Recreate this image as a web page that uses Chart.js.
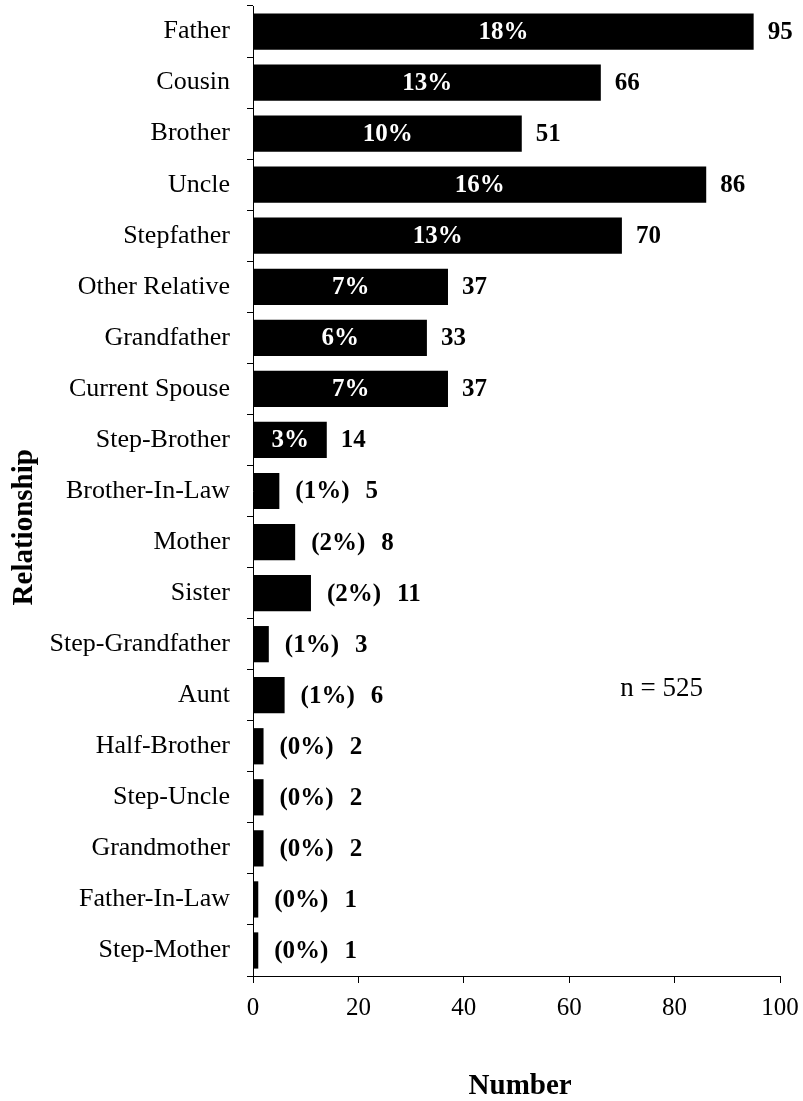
<!DOCTYPE html>
<html>
<head>
<meta charset="utf-8">
<script src="https://cdn.jsdelivr.net/npm/chart.js@4"></script>
<style>
  html, body { margin: 0; padding: 0; background: #fff; }
  #wrap { width: 803px; height: 1101px; position: relative; }
</style>
</head>
<body>
<div id="wrap"><canvas id="chart"></canvas></div>
<script>
// 关系类别与人数
const relationships = [
  'Father', 'Cousin', 'Brother', 'Uncle', 'Stepfather', 'Other Relative',
  'Grandfather', 'Current Spouse', 'Step-Brother', 'Brother-In-Law', 'Mother',
  'Sister', 'Step-Grandfather', 'Aunt', 'Half-Brother', 'Step-Uncle',
  'Grandmother', 'Father-In-Law', 'Step-Mother'
];
const counts = [95, 66, 51, 86, 70, 37, 33, 37, 14, 5, 8, 11, 3, 6, 2, 2, 2, 1, 1];
const percents = [18, 13, 10, 16, 13, 7, 6, 7, 3, 1, 2, 2, 1, 1, 0, 0, 0, 0, 0];
const xTicks = [0, 20, 40, 60, 80, 100];
const totalNote = 'n = 525';

const SERIF = '"Liberation Serif", "Times New Roman", serif';

// 柱上标签：大柱内白色百分比 + 柱外数量；小柱外面 (x%) 数量
const barLabels = {
  id: 'barLabels',
  afterDatasetsDraw(chart) {
    const ctx = chart.ctx;
    const meta = chart.getDatasetMeta(0);
    ctx.save();
    ctx.font = 'bold 25px ' + SERIF;
    ctx.textBaseline = 'middle';
    meta.data.forEach((bar, i) => {
      const end = bar.x;
      const mid = (bar.x + bar.base) / 2;
      const y = bar.y + 1;
      if (counts[i] >= 14) {
        ctx.fillStyle = '#fff';
        ctx.textAlign = 'center';
        ctx.fillText(percents[i] + '%', mid, y);
        ctx.fillStyle = '#000';
        ctx.textAlign = 'left';
        ctx.fillText(String(counts[i]), end + 14, y);
      } else {
        const p = '(' + percents[i] + '%)';
        ctx.fillStyle = '#000';
        ctx.textAlign = 'left';
        ctx.fillText(p, end + 16, y);
        ctx.fillText(String(counts[i]), end + 16 + ctx.measureText(p).width + 16, y);
      }
    });
    // n = 525
    const xs = chart.scales.x, ys = chart.scales.y;
    ctx.font = '27px ' + SERIF;
    ctx.textAlign = 'left';
    ctx.fillText(totalNote, xs.getPixelForValue(69.7), ys.getPixelForValue(13) - 6);
    ctx.restore();
  }
};

new Chart(document.getElementById('chart'), {
  type: 'bar',
  data: {
    labels: relationships,
    datasets: [{
      data: counts,
      backgroundColor: '#000',
      borderWidth: 0,
      barPercentage: 0.71,
      categoryPercentage: 1,
    }],
  },
  options: {
    indexAxis: 'y',
    responsive: true,
    maintainAspectRatio: false,
    animation: false,
    layout: { padding: { top: 6, right: 23, left: 0, bottom: 0 } },
    plugins: { legend: { display: false }, tooltip: { enabled: false } },
    scales: {
      x: {
        min: 0,
        max: 100,
        afterBuildTicks: s => { s.ticks = xTicks.map(v => ({ value: v })); },
        afterFit: s => { s.height = 125; s.paddingLeft = 0; s.paddingRight = 0; },
        border: { color: '#000', width: 1 },
        grid: { drawOnChartArea: false, color: '#000', tickLength: 7 },
        ticks: { color: '#000', padding: 10, font: { family: SERIF, size: 25 } },
        title: {
          display: true,
          text: ' Number',
          color: '#000',
          font: { family: SERIF, size: 29, weight: 'bold', lineHeight: 1 },
          padding: { top: 0, bottom: 0 },
        },
      },
      y: {
        afterFit: s => { s.width = 253; s.paddingTop = 0; s.paddingBottom = 0; },
        border: { color: '#000', width: 1 },
        grid: { drawOnChartArea: false, color: '#000', tickLength: 6, offset: true },
        ticks: { color: '#000', padding: 17, autoSkip: false, font: { family: SERIF, size: 26 } },
        title: {
          display: true,
          // 末尾空格让标题整体下移，与原图位置一致
          text: 'Relationship          ',
          color: '#000',
          font: { family: SERIF, size: 29, weight: 'bold', lineHeight: 1 },
          padding: { top: 10, bottom: 0 },
        },
      },
    },
  },
  plugins: [barLabels],
});
</script>
</body>
</html>
